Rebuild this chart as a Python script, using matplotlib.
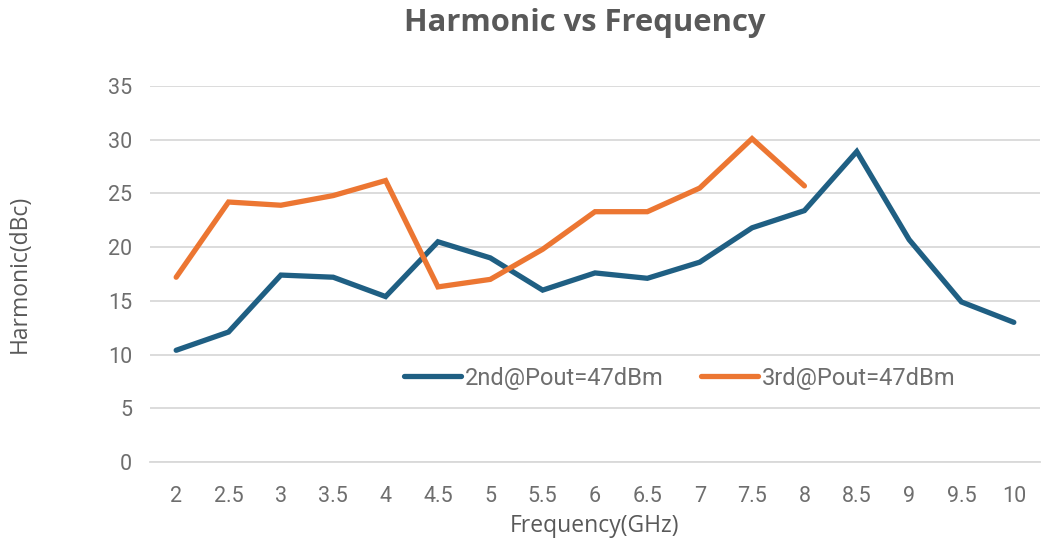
import matplotlib
matplotlib.use("Agg")
import matplotlib.pyplot as plt

freq_labels = ["2", "2.5", "3", "3.5", "4", "4.5", "5", "5.5", "6", "6.5",
               "7", "7.5", "8", "8.5", "9", "9.5", "10"]
second = [10.4, 12.1, 17.4, 17.2, 15.4, 20.5, 19.0, 16.0, 17.6, 17.1,
          18.6, 21.8, 23.4, 28.9, 20.7, 14.9, 13.0]
third = [17.2, 24.2, 23.9, 24.8, 26.2, 16.3, 17.0, 19.8, 23.3, 23.3,
         25.5, 30.1, 25.7]
yticks = [0, 5, 10, 15, 20, 25, 30, 35]

blue = "#1F5F83"
orange = "#EC7632"
gray = "#595959"
tickgray = "#6E6E6E"

fig = plt.figure(figsize=(10.41, 5.44), dpi=100)
ax = fig.add_axes([150/1041, 1 - 462/544, 890/1041, 376/544])

x2 = list(range(len(second)))
x3 = list(range(len(third)))
ax.plot(x2, second, color=blue, lw=3.8, solid_capstyle="round",
        solid_joinstyle="miter", label="2nd@Pout=47dBm")
ax.plot(x3, third, color=orange, lw=3.8, solid_capstyle="round",
        solid_joinstyle="miter", label="3rd@Pout=47dBm")

ax.set_xlim(-0.5, len(freq_labels) - 0.5)
ax.set_ylim(0, 35)
ax.set_yticks(yticks)
ax.set_yticklabels([str(v) for v in yticks])
ax.set_xticks(x2)
ax.set_xticklabels(freq_labels)
ax.grid(axis="y", color="#D9D9D9", lw=1.3)
ax.set_axisbelow(True)
for s in ["top", "right", "left"]:
    ax.spines[s].set_visible(False)
ax.spines["bottom"].set_color("#D9D9D9")
ax.spines["bottom"].set_linewidth(1.3)
ax.tick_params(length=0, labelsize=15.5, labelcolor=tickgray)
ax.tick_params(axis="x", pad=17)
ax.tick_params(axis="y", pad=13)
for t in ax.get_xticklabels() + ax.get_yticklabels():
    t.set_fontfamily("Roboto")

ax.set_xlabel("Frequency(GHz)", fontsize=16.5, color=gray, labelpad=5,
              fontfamily="Open Sans")
ax.set_ylabel("Harmonic(dBc)", fontsize=16.5, color=gray, labelpad=55,
              fontfamily="Open Sans")

fig.text(585/1041, 1 - 23/544, "Harmonic vs Frequency", ha="center", va="center",
         fontsize=22.3, fontweight="bold", color=gray, fontfamily="Open Sans")

leg = ax.legend(loc="center", bbox_to_anchor=((680 - 150)/890, (462 - 378)/376),
                ncol=2, frameon=False, handlelength=2.4,
                handletextpad=0.17, columnspacing=1.6,
                prop={"family": "Roboto", "size": 17})
for t in leg.get_texts():
    t.set_color(tickgray)

fig.savefig("out.png", dpi=100)
